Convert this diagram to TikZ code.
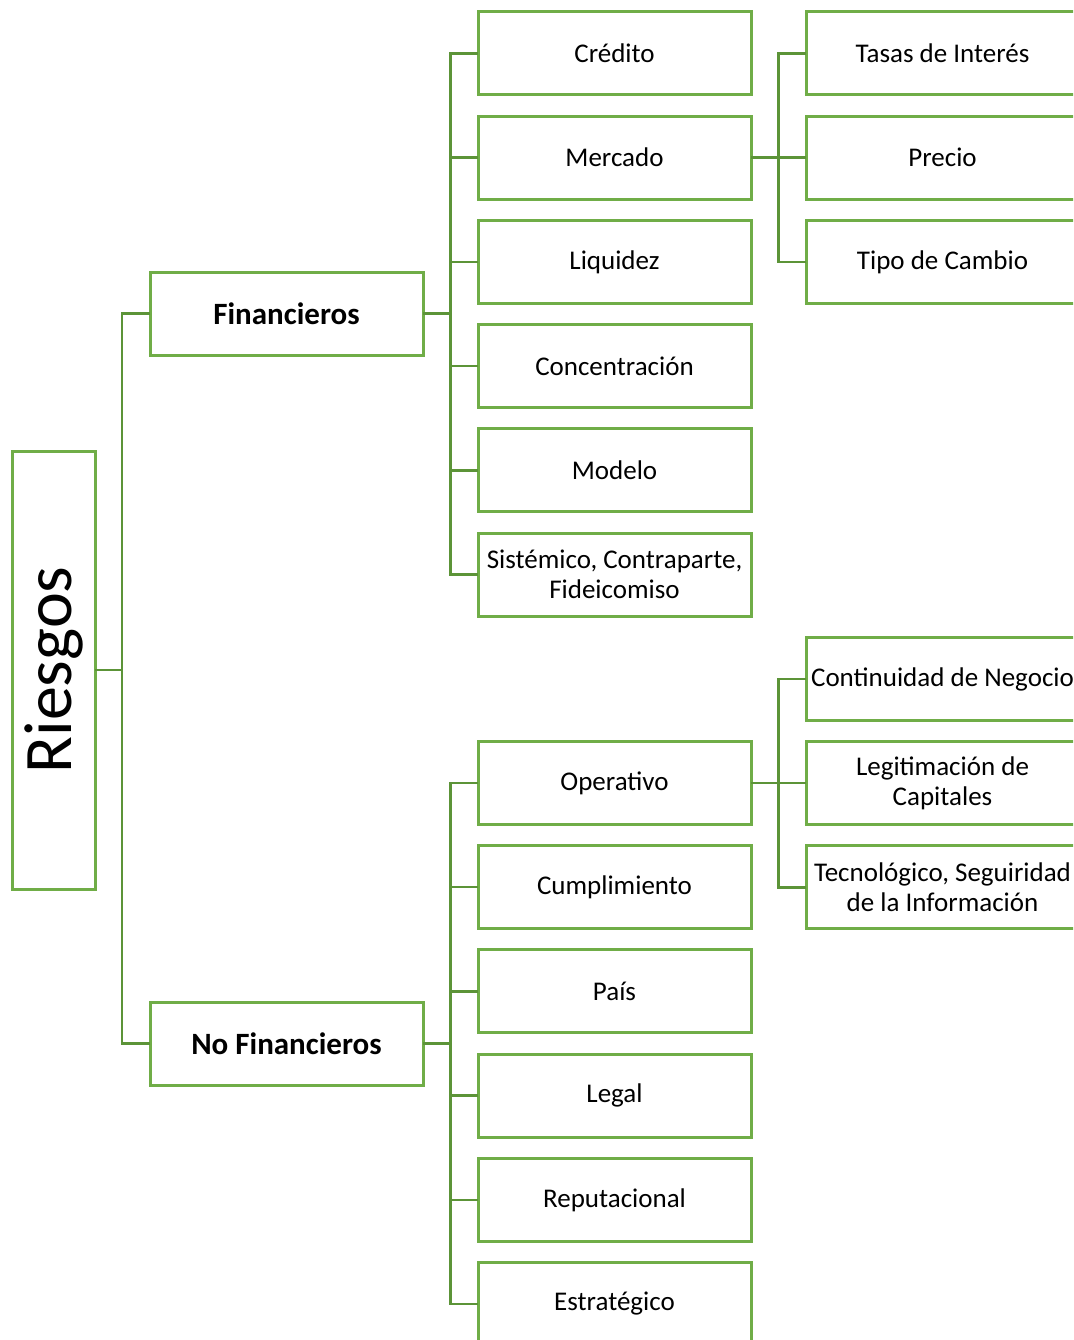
\documentclass[tikz,border=0pt]{standalone}
\usepackage{fontspec}
\setmainfont{Carlito}
\definecolor{boxgreen}{RGB}{112, 173, 71}
\definecolor{linegreen}{RGB}{92, 148, 56}
\usetikzlibrary{positioning}
\tikzset{
  rootbox/.style={draw=boxgreen, line width=3pt, outer sep=0pt, minimum width=83pt, minimum height=438pt, inner sep=0pt},
  groupbox/.style={draw=boxgreen, line width=3pt, outer sep=0pt, minimum width=273pt, minimum height=83pt, font=\fontsize{31}{34}\selectfont\bfseries},
  itembox/.style={draw=boxgreen, line width=3pt, outer sep=0pt, minimum width=273pt, minimum height=83pt, align=center, inner sep=1pt, font=\fontsize{27}{29.5}\selectfont},
  link/.style={draw=linegreen, line width=2.5pt},
}

\begin{document}
\begin{tikzpicture}[x=1pt, y=-1pt, node distance=21.2pt]
\useasboundingbox (0,0) rectangle (1073,1340);
\clip (0,0) rectangle (1073,1340);

% raiz y grupos
\node[rootbox] (riesgos) at (53.5,670) {\rotatebox{90}{\fontsize{68}{72}\selectfont Riesgos}};
\node[groupbox] (fin) at (286.5,313.5) {Financieros};
\node[groupbox] (nofin) at (286.5,1043.5) {No Financieros};

% financieros
\node[itembox] (credito) at (614.5,53.5) {Crédito};
\node[itembox, below=of credito] (mercado) {Mercado};
\node[itembox, below=of mercado] (liquidez) {Liquidez};
\node[itembox, below=of liquidez] (concentracion) {Concentración};
\node[itembox, below=of concentracion] (modelo) {Modelo};
\node[itembox, below=of modelo] (sistemico) {Sistémico, Contraparte,\\Fideicomiso};

% mercado
\node[itembox] (tasas) at (942.5,53.5) {Tasas de Interés};
\node[itembox, below=of tasas] (precio) {Precio};
\node[itembox, below=of precio] (cambio) {Tipo de Cambio};

% no financieros
\node[itembox] (operativo) at (614.5,783) {Operativo};
\node[itembox, below=of operativo] (cumplimiento) {Cumplimiento};
\node[itembox, below=of cumplimiento] (pais) {País};
\node[itembox, below=of pais] (legal) {Legal};
\node[itembox, below=of legal] (reputacional) {Reputacional};
\node[itembox, below=of reputacional] (estrategico) {Estratégico};

% operativo
\node[itembox] (continuidad) at (942.5,679) {Continuidad de Negocio};
\node[itembox, below=of continuidad] (legitimacion) {Legitimación de\\Capitales};
\node[itembox, below=of legitimacion] (tecnologico) {Tecnológico, Seguiridad\\de la Información};

% conectores
\coordinate (r) at ([xshift=27pt]riesgos.east);
\draw[link] (riesgos.east) -- (r);
\foreach \g in {fin, nofin}
  \draw[link] (\g.west) -| (r);

\coordinate (f) at ([xshift=27.5pt]fin.east);
\draw[link] (fin.east) -- (f);
\foreach \i in {credito, mercado, liquidez, concentracion, modelo, sistemico}
  \draw[link] (\i.west) -| (f);

\coordinate (m) at ([xshift=27.5pt]mercado.east);
\draw[link] (mercado.east) -- (mercado.east -| precio.west);
\foreach \i in {tasas, cambio}
  \draw[link] (\i.west) -| (m);

\coordinate (n) at ([xshift=27.5pt]nofin.east);
\draw[link] (nofin.east) -- (n);
\foreach \i in {operativo, cumplimiento, pais, legal, reputacional, estrategico}
  \draw[link] (\i.west) -| (n);

\coordinate (o) at ([xshift=27.5pt]operativo.east);
\draw[link] (operativo.east) -- (operativo.east -| legitimacion.west);
\foreach \i in {continuidad, tecnologico}
  \draw[link] (\i.west) -| (o);
\end{tikzpicture}
\end{document}
